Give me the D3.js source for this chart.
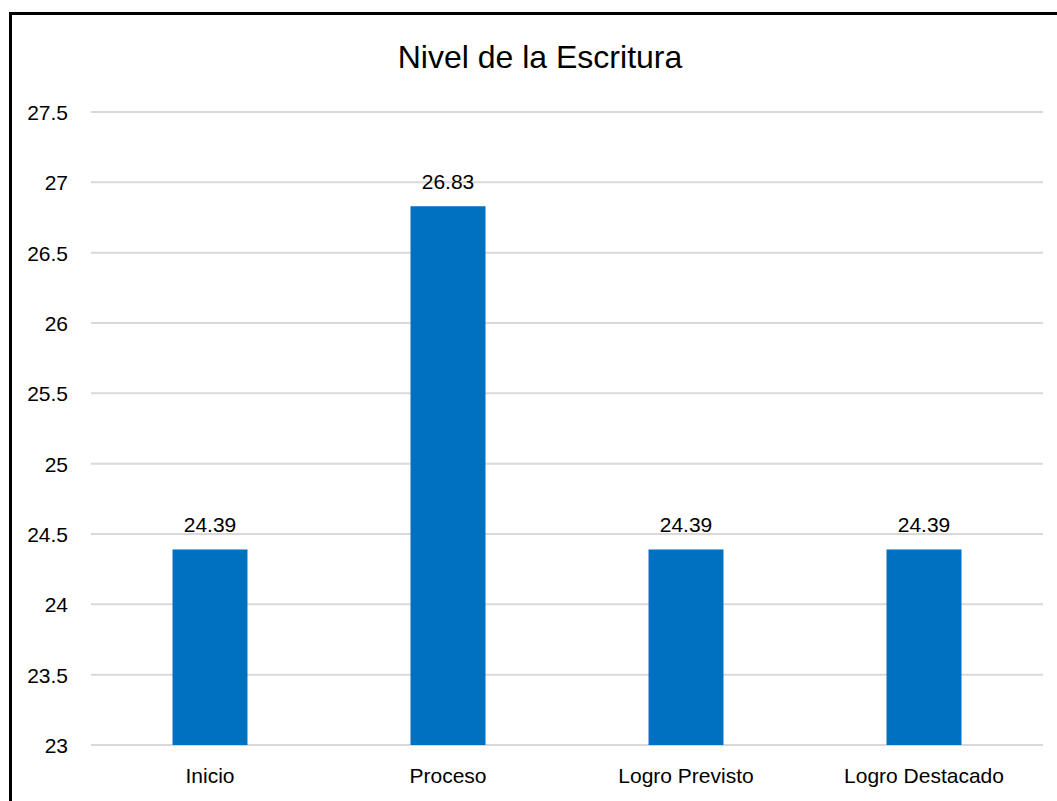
<!DOCTYPE html>
<html>
<head>
<meta charset="utf-8">
<script src="https://cdn.jsdelivr.net/npm/d3@7"></script>
<style>
  body { margin: 0; background: #fff; }
  svg { display: block; }
  text { font-family: "Liberation Sans", Arial, sans-serif; fill: #000; }
</style>
</head>
<body>
<svg id="chart" width="1057" height="801"></svg>
<script>
const title = "Nivel de la Escritura";
const categories = ["Inicio", "Proceso", "Logro Previsto", "Logro Destacado"];
const values = [24.39, 26.83, 24.39, 24.39];
const yTicks = [23, 23.5, 24, 24.5, 25, 25.5, 26, 26.5, 27, 27.5];
const yDomain = [23, 27.5];

const svg = d3.select("#chart");
const margin = { left: 91, right: 1043, top: 112, bottom: 745 };

// chart border
svg.append("rect")
  .attr("x", 10.5).attr("y", 13.5)
  .attr("width", 1100).attr("height", 900)
  .attr("fill", "none").attr("stroke", "#000").attr("stroke-width", 3);

const x = d3.scaleBand().domain(categories).range([margin.left, margin.right]).paddingInner(0.685).paddingOuter(0.3425);
const y = d3.scaleLinear().domain(yDomain).range([margin.bottom, margin.top]);

// gridlines
svg.append("g").selectAll("line").data(yTicks).join("line")
  .attr("x1", margin.left).attr("x2", margin.right)
  .attr("y1", d => y(d)).attr("y2", d => y(d))
  .attr("stroke", "#d9d9d9").attr("stroke-width", 2);

// y axis labels
const yAxis = d3.axisLeft(y).tickValues(yTicks).tickSize(0).tickPadding(0).tickFormat(d => String(d));
const gy = svg.append("g").attr("transform", `translate(68,0)`).call(yAxis);
gy.select(".domain").remove();
gy.selectAll("text").attr("font-size", 21).attr("font-family", "Liberation Sans, Arial, sans-serif").attr("fill", "#000").attr("dy", "0.35em");

// bars
svg.append("g").selectAll("rect").data(values).join("rect")
  .attr("x", (d, i) => x(categories[i]))
  .attr("width", x.bandwidth())
  .attr("y", d => y(d))
  .attr("height", d => y(yDomain[0]) - y(d))
  .attr("fill", "#0070C0");

// value labels
svg.append("g").selectAll("text").data(values).join("text")
  .attr("x", (d, i) => x(categories[i]) + x.bandwidth() / 2)
  .attr("y", d => y(d) - 17)
  .attr("text-anchor", "middle")
  .attr("font-size", 21)
  .text(d => d.toFixed(2));

// x axis labels
const xAxis = d3.axisBottom(x).tickSize(0).tickPadding(0);
const gx = svg.append("g").attr("transform", `translate(0,${margin.bottom})`).call(xAxis);
gx.select(".domain").remove();
gx.selectAll("text").attr("font-size", 21).attr("font-family", "Liberation Sans, Arial, sans-serif").attr("fill", "#000").attr("dy", null).attr("y", 38);

// title
svg.append("text")
  .attr("x", 540).attr("y", 68)
  .attr("text-anchor", "middle")
  .attr("font-size", 32)
  .text(title);
</script>
</body>
</html>
